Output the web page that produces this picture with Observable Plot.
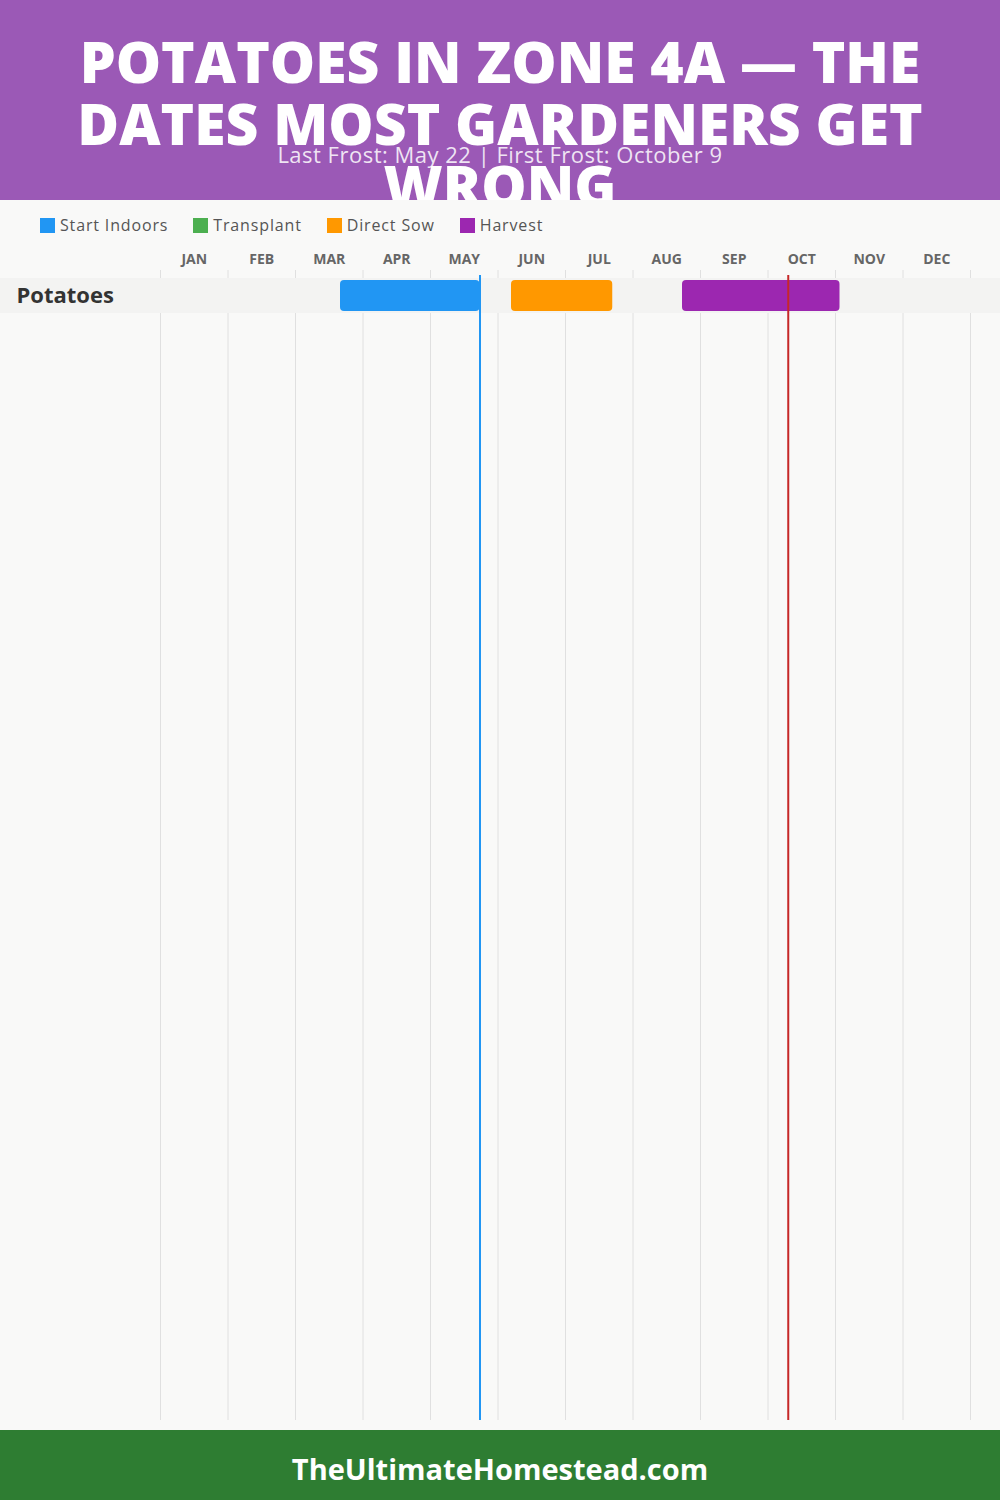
<!DOCTYPE html>
<html>
<head>
<meta charset="utf-8">
<script src="https://cdn.jsdelivr.net/npm/d3@7"></script>
<script src="https://cdn.jsdelivr.net/npm/@observablehq/plot@0.6"></script>
<style>
  html, body { margin: 0; padding: 0; }
  body { width: 1000px; height: 1500px; background: #f9f9f8; font-family: "Open Sans", "Noto Sans", sans-serif; overflow: hidden; position: relative; }
  #header { position: absolute; left: 0; top: 0; width: 1000px; height: 200px; background: #9b59b6; overflow: hidden; }
  #title { position: absolute; left: 0; top: 30px; width: 1000px; text-align: center; color: #fff; font-weight: 800; font-size: 57px; line-height: 62px; }
  #title span { display: block; white-space: nowrap; }
  #subtitle { position: absolute; left: 0; top: 140px; width: 1000px; text-align: center; color: rgba(255,255,255,0.85); font-size: 22px; letter-spacing: 0.5px; line-height: 28px; }
  #legend { position: absolute; top: 214px; left: 40px; display: flex; gap: 25px; font-size: 16px; letter-spacing: 0.85px; color: #555; line-height: 22px; }
  .item { display: flex; align-items: center; }
  .sw { width: 15px; height: 15px; margin-right: 5px; }
  #chart { position: absolute; top: 240px; left: 0; }
  #footer { position: absolute; left: 0; top: 1430px; width: 1000px; height: 70px; padding-top: 7px; box-sizing: border-box; background: #2e7d32; color: #fff; font-weight: 700; font-size: 29px; display: flex; align-items: center; justify-content: center; }
</style>
</head>
<body>
<div id="header">
  <div id="title"></div>
  <div id="subtitle"></div>
</div>
<div id="legend"></div>
<div id="chart"></div>
<div id="footer"></div>
<script>
// ---- Data ----
const titleLines = ["POTATOES IN ZONE 4A — THE", "DATES MOST GARDENERS GET", "WRONG"];
const subtitle = "Last Frost: May 22 | First Frost: October 9";
const footerText = "TheUltimateHomestead.com";
const months = ["JAN", "FEB", "MAR", "APR", "MAY", "JUN", "JUL", "AUG", "SEP", "OCT", "NOV", "DEC"];
const monthAbbr = ["Jan", "Feb", "Mar", "Apr", "May", "Jun", "Jul", "Aug", "Sep", "Oct", "Nov", "Dec"];
const crops = ["Potatoes"];
const phases = ["Start Indoors", "Transplant", "Direct Sow", "Harvest"];
const phaseColors = ["#2196F3", "#4CAF50", "#FF9800", "#9C27B0"];
const barCrop = ["Potatoes", "Potatoes", "Potatoes"];
const barPhase = ["Start Indoors", "Direct Sow", "Harvest"];
const barStart = ["Mar 20", "Jun 6", "Aug 22"];
const barEnd = ["May 22", "Jul 21", "Nov 2"];
const frostNames = ["Last Frost", "First Frost"];
const frostDates = ["May 22", "Oct 9"];
const frostColors = ["#2196F3", "#C62828"];

// ---- Text ----
document.getElementById("title").innerHTML = titleLines.map(t => `<span>${t}</span>`).join("");
document.getElementById("subtitle").textContent = subtitle;
document.getElementById("footer").textContent = footerText;
document.getElementById("legend").innerHTML = phases.map((p, i) =>
  `<div class="item"><div class="sw" style="background:${phaseColors[i]}"></div><span>${p}</span></div>`).join("");

// ---- Chart ----
const toPos = s => { const [m, d] = s.split(" "); return monthAbbr.indexOf(m) + (+d) / 30; };
const bars = barPhase.map((p, i) => ({ crop: barCrop[i], phase: p, x1: toPos(barStart[i]), x2: toPos(barEnd[i]) }));
const frost = frostNames.map((n, i) => ({ name: n, pos: toPos(frostDates[i]), color: frostColors[i] }));
const monthData = months.map((m, i) => ({ m, i }));
const boundaries = months.map((m, i) => i).concat([months.length]);

const bandMark = (index, scales, values, dims) => {
  const g = d3.create("svg:g");
  const bw = typeof scales.y.bandwidth === "function" ? scales.y.bandwidth() : scales.y.bandwidth;
  g.selectAll("rect").data(crops).join("rect")
    .attr("x", 0).attr("width", dims.width)
    .attr("y", d => scales.y(d)).attr("height", bw)
    .attr("fill", "#f3f3f2");
  return g.node();
};

const chart = Plot.plot({
  width: 1000,
  height: 1180,
  marginLeft: 160,
  marginRight: 30,
  marginTop: 30,
  marginBottom: 0,
  style: { background: "transparent", fontFamily: "'Open Sans', sans-serif", overflow: "visible" },
  x: { domain: [0, 12], axis: null },
  y: { domain: crops, range: [38, 73], padding: 0, axis: null },
  color: { domain: phases, range: phaseColors },
  marks: [
    Plot.ruleX(boundaries, { x: d => d, stroke: "#e0e0e0", strokeWidth: 1 }),
    bandMark,
    Plot.text(monthData, { x: d => d.i + 0.5, frameAnchor: "top", dy: -11, text: "m", fontSize: 14, fontWeight: 700, fill: "#666", letterSpacing: 0.8 }),
    Plot.barX(bars, { x1: "x1", x2: "x2", y: "crop", fill: "phase", rx: 4, insetTop: 2, insetBottom: 2 }),
    Plot.ruleX(frost, { x: "pos", stroke: "color", strokeWidth: 2, insetTop: 5 }),
    Plot.text(crops, { y: d => d, frameAnchor: "left", dx: -144, textAnchor: "start", text: d => d, fontSize: 22, fontWeight: 700, fill: "#333", letterSpacing: 0.4 })
  ]
});
// month labels: nudge up to match header row
chart.querySelectorAll("text").forEach(t => {
  if (months.includes(t.textContent)) t.setAttribute("transform", (t.getAttribute("transform") || "") + " translate(0,-5)");
});
document.getElementById("chart").appendChild(chart);
</script>
</body>
</html>
